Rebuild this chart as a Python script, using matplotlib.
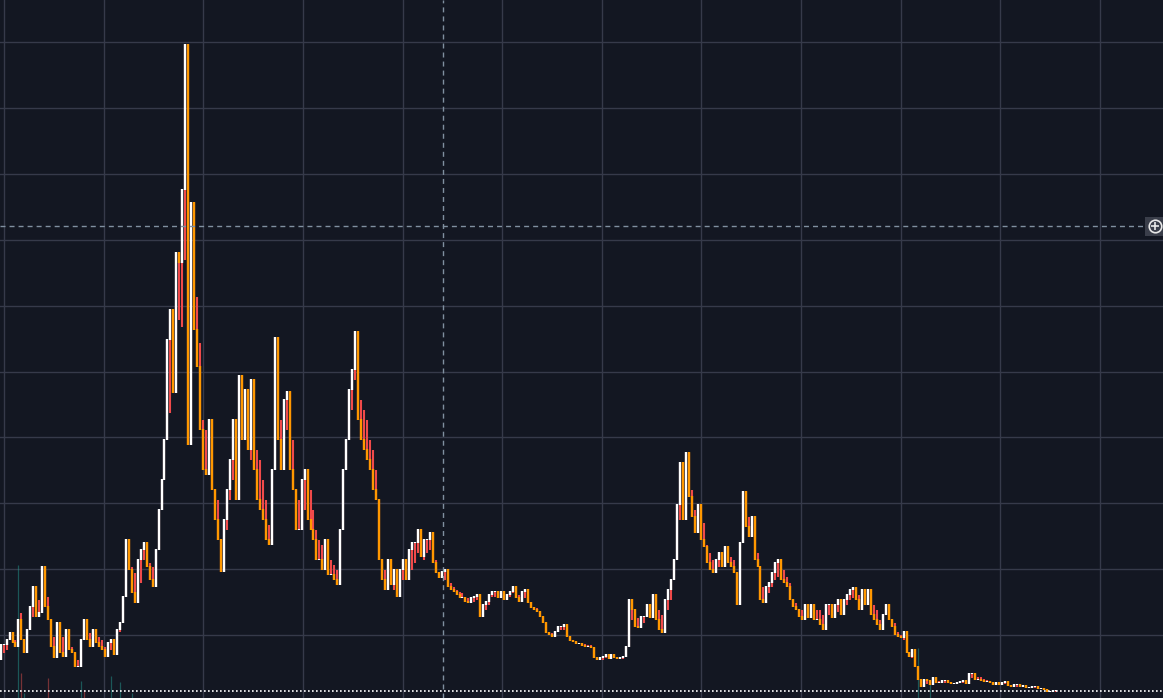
import numpy as np
import matplotlib
matplotlib.use("Agg")
import matplotlib.pyplot as plt
from matplotlib.ticker import MultipleLocator, FixedLocator

# candle highs / lows (price units), one per bar, oldest first
highs = [56, 56, 61, 68, 69, 61, 81, 88, 61, 71, 94, 114, 111, 101, 134, 128, 104, 81, 64, 78,
         61, 64, 71, 61, 54, 43, 41, 61, 81, 74, 68, 71, 68, 64, 61, 54, 58, 61, 61, 71,
         78, 104, 161, 151, 134, 128, 141, 151, 158, 148, 138, 134, 151,
         191, 221, 261, 361, 391, 361, 448, 438, 511, 656, 441, 498, 451, 404, 358, 281, 271,
         281, 261, 211, 201, 161, 181, 211, 241, 281, 261, 325, 301, 311, 301, 321, 291, 251, 241,
         221, 201, 176,
         231, 363, 321, 281, 301, 309, 271, 261, 211, 201, 221, 231, 221, 211, 191, 171, 161, 156,
         161, 146, 141, 136, 131, 171, 231, 261, 311, 331, 369, 321, 301, 291, 281, 261, 251, 231,
         161, 141, 131, 141, 126, 131, 116, 131, 141, 138, 151, 158, 158, 171, 158, 161, 161, 168,
         154, 141, 129, 129, 131, 124, 118, 114, 111, 109, 108, 104, 103, 103, 104,
         106, 98, 96, 99, 106, 109, 109, 108, 109, 104, 106, 109, 114, 109, 106, 109, 111, 104, 99,
         94, 93, 89, 83, 74, 69, 68, 69, 74, 74, 76, 69, 63, 61, 59, 58, 57, 57, 56, 56,
         48, 43, 43, 44, 46, 44, 46, 44, 43, 43, 44, 54, 101, 91, 84, 83, 84, 84, 96, 91,
         106, 101, 91, 86, 101, 111, 121, 141, 196, 238, 214, 248, 231, 211, 191, 196, 181, 178,
         156, 148, 141, 141, 148, 144, 154, 151, 144, 141, 126, 158, 209, 194, 184, 184, 154, 148,
         134, 114, 114, 118, 128, 138, 141, 136, 131, 124, 118, 101, 98, 91, 91, 96, 93, 96,
         96, 91, 91, 86, 96, 96, 93, 96, 101, 96, 101, 106, 111, 113, 111, 106, 111, 106, 111,
         101, 96, 91, 81, 86, 96, 96, 81, 78, 69, 66, 69, 56, 49, 51, 43, 34, 21, 21, 20,
         19, 23, 21, 20, 20, 20, 19, 19, 18, 18, 19, 20, 19, 27, 27, 25, 24, 24, 22, 21,
         19, 18, 18, 17, 18, 19, 17, 16, 16, 16, 15, 15, 15, 14, 14, 14, 14, 13, 13, 12,
         10, 10, 10]
lows = [41, 48, 51, 61, 58, 54, 73, 61, 48, 54, 71, 84, 84, 88, 108, 94, 81, 54, 43, 51,
        48, 44, 58, 51, 48, 34, 34, 44, 64, 61, 54, 61, 58, 54, 51, 44, 48, 51, 46, 61,
        69, 81, 128, 131, 108, 98, 118, 118, 141, 134, 121, 114, 141,
        161, 191, 226, 271, 288, 308, 334, 381, 374, 441, 256, 401, 371, 334, 271, 231, 226,
        231, 211, 181, 161, 129, 141, 171, 201, 221, 201, 281, 261, 271, 251, 241, 231, 201, 191,
        181, 161, 156,
        191, 281, 261, 231, 251, 271, 231, 211, 171, 171, 181, 191, 181, 171, 161, 141, 141, 131,
        136, 126, 126, 121, 116, 141, 201, 231, 281, 291, 321, 281, 261, 251, 241, 231, 211, 201,
        141, 121, 111, 121, 116, 111, 104, 111, 121, 121, 134, 131, 138, 148, 144, 141, 148, 151,
        138, 128, 123, 123, 121, 114, 111, 109, 106, 103, 103, 99, 98, 99, 99,
        101, 84, 89, 91, 96, 104, 104, 103, 104, 101, 103, 104, 108, 103, 99, 99, 103, 98, 93,
        91, 89, 84, 78, 68, 66, 64, 66, 71, 71, 71, 64, 60, 59, 57, 57, 55, 54, 54, 53,
        43, 41, 41, 41, 43, 42, 44, 43, 42, 42, 42, 44, 64, 81, 74, 73, 74, 78, 84, 83,
        86, 81, 71, 68, 81, 91, 101, 121, 168, 181, 181, 188, 204, 184, 168, 174, 161, 154,
        138, 131, 128, 134, 134, 134, 138, 138, 134, 128, 96, 141, 184, 174, 164, 168, 141, 134,
        101, 98, 104, 108, 114, 121, 124, 121, 118, 114, 101, 94, 91, 84, 81, 81, 83, 86,
        81, 81, 76, 71, 86, 86, 83, 86, 89, 86, 91, 96, 101, 103, 101, 91, 101, 96, 101,
        86, 81, 76, 71, 74, 86, 81, 74, 66, 64, 63, 61, 48, 44, 43, 34, 21, 14, 16, 17,
        16, 18, 18, 18, 18, 18, 18, 17, 17, 17, 18, 18, 17, 17, 23, 21, 21, 20, 19, 19,
        18, 16, 16, 16, 16, 17, 15, 14, 14, 14, 14, 14, 13, 13, 13, 13, 12, 12, 11, 9,
        9, 9, 9]

# volume histogram (only a few bars are visible)
vol_idx = [6, 7, 8, 16, 27, 28, 37, 40, 44, 308, 312]
vol_vals = [136, 28, 8, 23, 20, 11, 25, 19, 8, 53, 18]
vol_up = [True, False, True, False, True, False, True, True, True, True, True]

BG = "#131722"
GRID = "#363a4a"
WHITE = "#ffffff"
ORANGE = "#ff9800"
RED = "#f04a4a"
CROSS = "#8090a0"

highs = np.array(highs, dtype=float)
lows = np.array(lows, dtype=float)
n = len(highs)
x = np.arange(n)

mid = (highs + lows) / 2
up = np.ones(n, dtype=bool)
up[1:] = mid[1:] >= mid[:-1]
close = np.where(up, highs, lows)
opn = np.empty(n)
opn[0] = lows[0]
opn[1:] = close[:-1]          # open at previous close -> bars join up
up = close >= opn
wick_lo = np.minimum(lows, opn)
wick_hi = np.maximum(highs, opn)
body_lo = np.minimum(opn, close)
body_hi = np.maximum(opn, close)

fig = plt.figure(figsize=(11.63, 6.98), dpi=100, facecolor=BG)
ax = fig.add_axes([0, 0, 1, 1])
ax.set_facecolor(BG)

px = 2.98  # pixels per bar
xmin = -0.2
ax.set_xlim(xmin, xmin + 1163 / px)
ax.set_ylim(3, 701)

ax.xaxis.set_major_locator(FixedLocator(np.arange(1.24, 400, 33.42)))
ax.yaxis.set_major_locator(MultipleLocator(65.9))
ax.grid(True, color=GRID, linewidth=1.0)
ax.tick_params(left=False, bottom=False, labelleft=False, labelbottom=False)
for s in ax.spines.values():
    s.set_visible(False)

# volume bars
vcol = ["#26a69a" if u else "#ef5350" for u in vol_up]
ax.vlines(vol_idx, 0, vol_vals, colors=vcol, linewidth=0.9, alpha=0.45, zorder=2)

# wicks then bodies
ax.vlines(x, wick_lo, wick_hi, colors=RED, linewidth=1.5, capstyle="butt", zorder=3)
bcol = [WHITE if u else ORANGE for u in up]
ax.vlines(x, body_lo, body_hi + 0.8, colors=bcol,
          linewidth=1.7, capstyle="butt", zorder=4)

# baseline
ax.axhline(9.7, color=WHITE, linewidth=1.2, linestyle=(0, (1, 1.4)), zorder=5)

# crosshair
ax.axvline(443 / px + xmin, color=CROSS, linewidth=1.0, dashes=(3.6, 2.9), zorder=6)
ax.plot([0, 1145 / 1163], [472 / 698, 472 / 698], transform=ax.transAxes,
        color=CROSS, linewidth=1.0, dashes=(3.6, 2.9), zorder=6)
ax.add_patch(plt.Rectangle((1145 / 1163, 462 / 698), 18 / 1163, 19 / 698,
                           transform=ax.transAxes, facecolor="#3a3e4a",
                           edgecolor="none", zorder=7))
ax.plot([1155 / 1163], [472 / 698], transform=ax.transAxes, marker="o", ms=9,
        mfc="none", mec="#e8e8e8", mew=1.2, zorder=8)
ax.plot([1155 / 1163], [472 / 698], transform=ax.transAxes, marker="+", ms=6,
        mec="#e8e8e8", mew=1.2, zorder=8)

fig.savefig("out.png", dpi=100, facecolor=BG)
